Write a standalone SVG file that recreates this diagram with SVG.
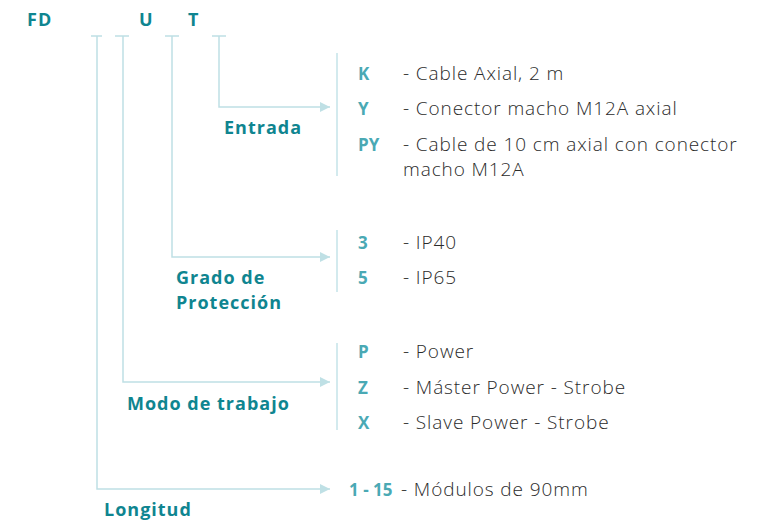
<svg xmlns="http://www.w3.org/2000/svg" width="758" height="525" viewBox="0 0 758 525">
<style>
.code{font-family:"Open Sans","Noto Sans",sans-serif;font-weight:700;font-size:18px;letter-spacing:1px;fill:#0f8590}
.lbl{font-family:"Open Sans","Noto Sans",sans-serif;font-weight:700;font-size:18px;letter-spacing:1px;fill:#0f8590}
.key{font-family:"Open Sans","Noto Sans",sans-serif;font-weight:700;font-size:17px;fill:#4aa9b4}
.desc{font-family:"Open Sans","Noto Sans",sans-serif;font-weight:300;font-size:19px;letter-spacing:0.9px;fill:#2b2b2b}
.ln{fill:none;stroke:#bfe0e5;stroke-width:1.5}
.sep{stroke:#c5e3e8;stroke-width:1.5}
</style>
<defs>
<marker id="arr" viewBox="0 0 10 10" refX="10" refY="5" markerWidth="14" markerHeight="10" markerUnits="userSpaceOnUse" orient="auto">
<path d="M0,0 L10,5 L0,10 z" fill="#bfe0e5"/>
</marker>
</defs>
<g id="code">
<text class="code" x="27" y="26">FD</text>
<text class="code" x="139" y="26">U</text>
<text class="code" x="188" y="26">T</text>
</g>
<g id="connectors">
<path class="ln" d="M91,36 H102 M115,36 H129 M165,36 H179 M212,36 H226"/>
<path class="ln" d="M97,36 V489 H330" marker-end="url(#arr)"/>
<path class="ln" d="M123,36 V382 H330" marker-end="url(#arr)"/>
<path class="ln" d="M172,36 V257 H330" marker-end="url(#arr)"/>
<path class="ln" d="M219,36 V107 H330" marker-end="url(#arr)"/>
<line class="sep" x1="337" y1="53" x2="337" y2="176"/>
<line class="sep" x1="337" y1="230" x2="337" y2="292"/>
<line class="sep" x1="337" y1="343" x2="337" y2="430"/>
</g>
<g id="entrada">
<text class="lbl" x="224" y="134">Entrada</text>
<text class="key" x="358" y="80">K</text>
<text class="desc" x="403" y="80">- Cable Axial, 2 m</text>
<text class="key" x="358" y="115">Y</text>
<text class="desc" x="403" y="115">- Conector macho M12A axial</text>
<text class="key" x="358" y="151">PY</text>
<text class="desc" x="403" y="151">- Cable de 10 cm axial con conector</text>
<text class="desc" x="403" y="176">macho M12A</text>
</g>
<g id="grado">
<text class="lbl" x="176" y="284">Grado de</text>
<text class="lbl" x="176" y="309">Protección</text>
<text class="key" x="358" y="249">3</text>
<text class="desc" x="403" y="249">- IP40</text>
<text class="key" x="358" y="284">5</text>
<text class="desc" x="403" y="284">- IP65</text>
</g>
<g id="modo">
<text class="lbl" x="127" y="410">Modo de trabajo</text>
<text class="key" x="358" y="358">P</text>
<text class="desc" x="403" y="358">- Power</text>
<text class="key" x="358" y="394">Z</text>
<text class="desc" x="403" y="394">- Máster Power - Strobe</text>
<text class="key" x="358" y="429">X</text>
<text class="desc" x="403" y="429">- Slave Power - Strobe</text>
</g>
<g id="longitud">
<text class="lbl" x="104" y="516">Longitud</text>
<text class="key" x="349" y="496">1 - 15</text>
<text class="desc" x="401" y="496">- Módulos de 90mm</text>
</g>
</svg>
